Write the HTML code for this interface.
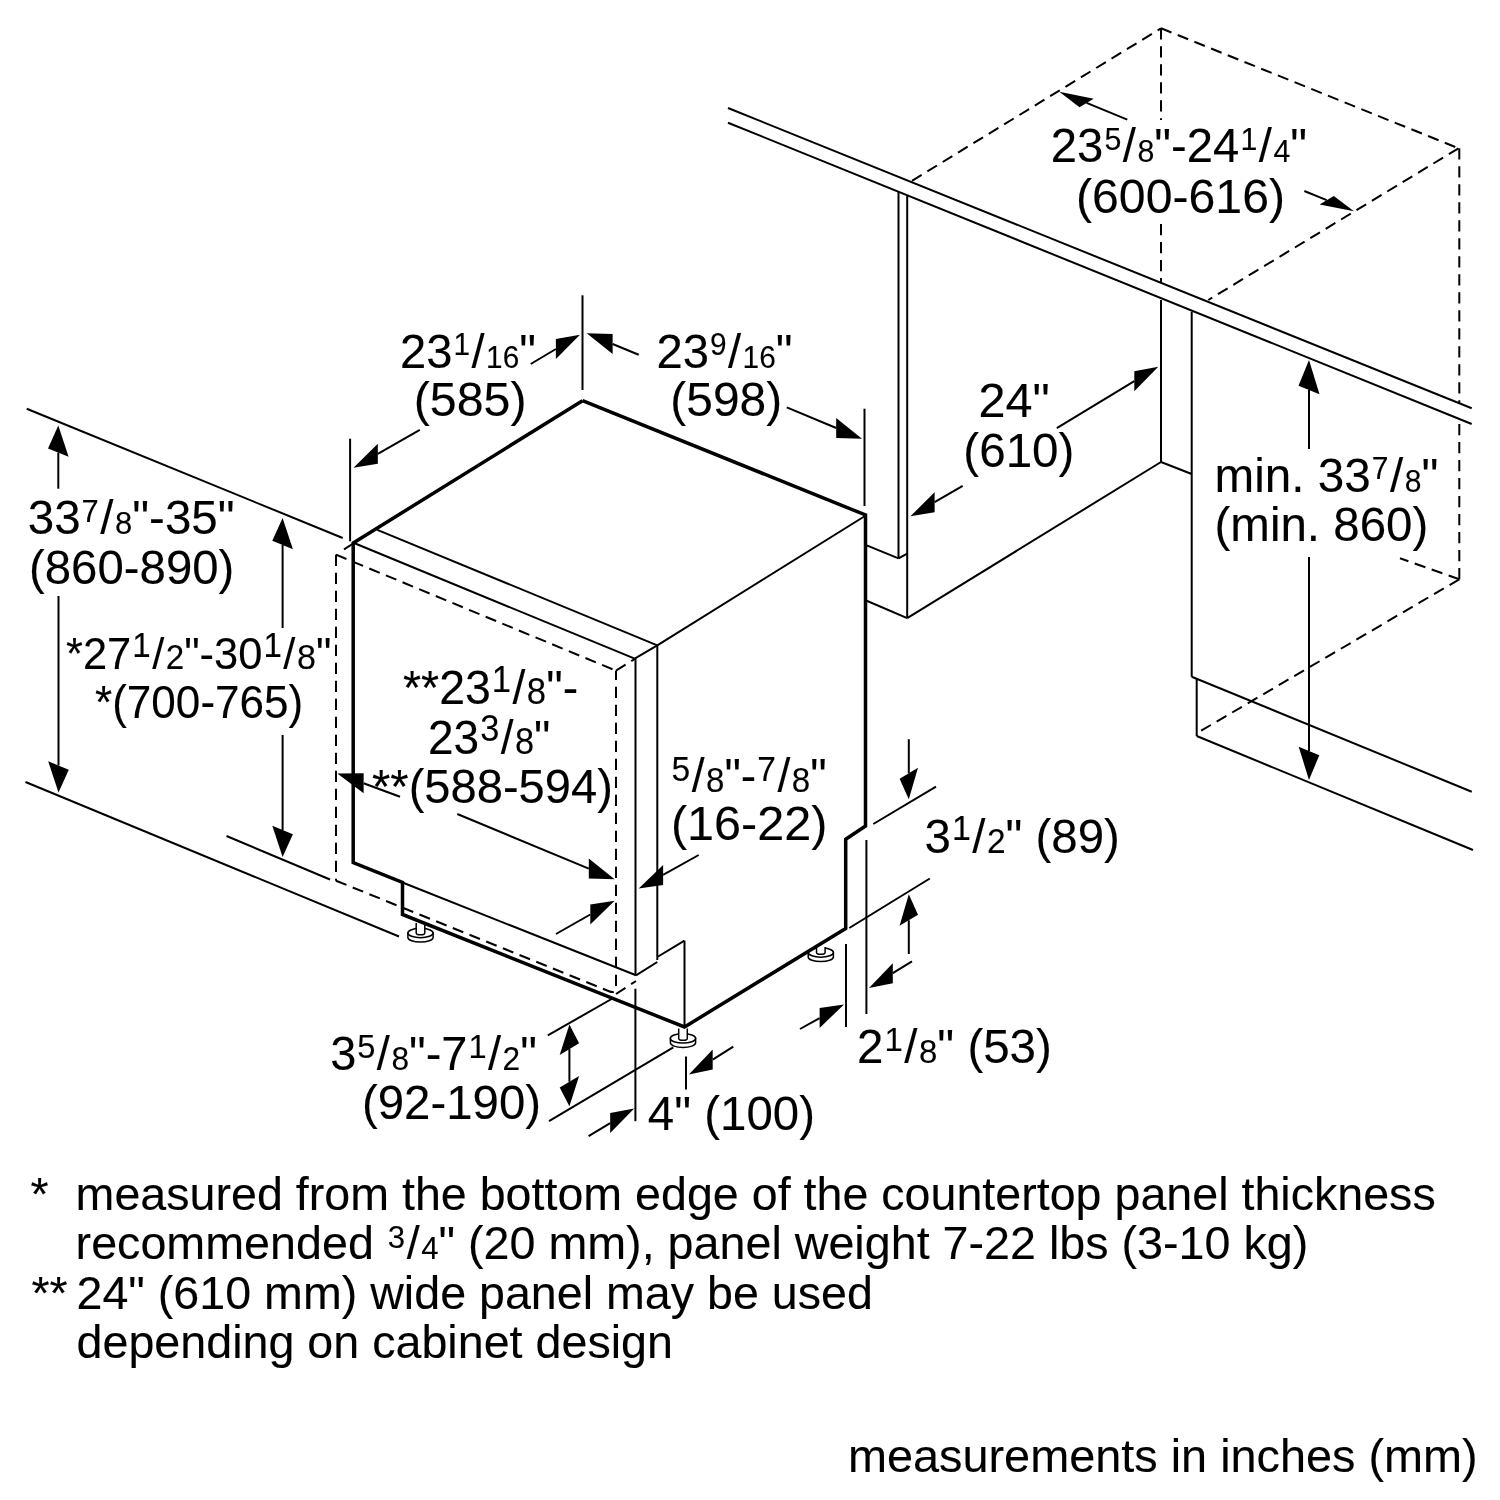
<!DOCTYPE html>
<html><head><meta charset="utf-8"><title>Dishwasher installation dimensions</title>
<style>
html,body{margin:0;padding:0;background:#fff;}
body{width:1500px;height:1500px;overflow:hidden;}
svg{display:block;}
svg line,svg polyline{stroke:#000;fill:none;stroke-linecap:butt;}
svg text{font-family:"Liberation Sans",Arial,Helvetica,sans-serif;fill:#000;stroke:#000;stroke-width:0.1px;}
svg{will-change:transform;}
</style></head><body>
<svg width="1500" height="1500" viewBox="0 0 1500 1500">
<rect x="0" y="0" width="1500" height="1500" fill="#fff"/>
<line x1="728" y1="108" x2="1471.7" y2="408.3" stroke-width="2.0" />
<line x1="728" y1="122.7" x2="1471.7" y2="424" stroke-width="2.0" />
<line x1="912" y1="180.8" x2="1161" y2="28.3" stroke-width="2.0" stroke-dasharray="11.3 6.7"/>
<line x1="1161" y1="28.3" x2="1458.5" y2="148.3" stroke-width="2.0" stroke-dasharray="11.3 6.7"/>
<line x1="1161" y1="28.3" x2="1161" y2="120" stroke-width="2.0" stroke-dasharray="11.3 6.7"/>
<line x1="1161" y1="224" x2="1161" y2="283" stroke-width="2.0" stroke-dasharray="11.3 6.7"/>
<line x1="1459.3" y1="148.3" x2="1459.3" y2="403" stroke-width="2.0" stroke-dasharray="11.3 6.7"/>
<line x1="1459.3" y1="424" x2="1459.3" y2="579.3" stroke-width="2.0" stroke-dasharray="11.3 6.7"/>
<line x1="1458.5" y1="148.3" x2="1208.3" y2="300" stroke-width="2.0" stroke-dasharray="11.3 6.7"/>
<line x1="1459.3" y1="579.3" x2="1196.7" y2="733.3" stroke-width="2.0" stroke-dasharray="11.3 6.7"/>
<line x1="1459.3" y1="579.3" x2="1400" y2="558.3" stroke-width="2.0" stroke-dasharray="11.3 6.7"/>
<line x1="898.5" y1="192" x2="898.5" y2="558.4" stroke-width="2.0" />
<line x1="907.2" y1="196" x2="907.2" y2="618.1" stroke-width="2.0" />
<line x1="866.1" y1="545.1" x2="898.5" y2="558.4" stroke-width="2.0" />
<line x1="898.5" y1="558.4" x2="907.2" y2="553.6" stroke-width="2.0" />
<line x1="866.1" y1="600.5" x2="907.2" y2="618.1" stroke-width="2.0" />
<line x1="907.2" y1="618.1" x2="1161" y2="462" stroke-width="2.0" />
<line x1="1161" y1="300" x2="1161" y2="462" stroke-width="2.0" />
<line x1="1191.7" y1="311.7" x2="1191.7" y2="676.7" stroke-width="2.0" />
<line x1="1161" y1="462" x2="1191.7" y2="474" stroke-width="2.0" />
<line x1="1191.7" y1="676.7" x2="1471.7" y2="791.7" stroke-width="2.0" />
<line x1="1196.7" y1="678.5" x2="1196.7" y2="736" stroke-width="2.0" />
<line x1="1196.7" y1="736" x2="1473" y2="850" stroke-width="2.0" />
<g stroke="#000" stroke-width="1.5" fill="#fff"><path d="M407.9,933 v4.4 a12.6,4.7 0 0 0 25.2,0 v-4.4 z"/><ellipse cx="420.5" cy="933" rx="12.6" ry="4.7"/><path d="M416.2,923 V933 a4.3,1.8 0 0 0 8.6,0 V923"/></g>
<g stroke="#000" stroke-width="1.5" fill="#fff"><path d="M670.4,1038.4 v4.4 a12.6,4.7 0 0 0 25.2,0 v-4.4 z"/><ellipse cx="683" cy="1038.4" rx="12.6" ry="4.7"/><path d="M678.7,1028.4 V1038.4 a4.3,1.8 0 0 0 8.6,0 V1028.4"/></g>
<g stroke="#000" stroke-width="1.5" fill="#fff"><path d="M808.1999999999999,952.5 v4.4 a12.6,4.7 0 0 0 25.2,0 v-4.4 z"/><ellipse cx="820.8" cy="952.5" rx="12.6" ry="4.7"/><path d="M816.5,947.0 V952.5 a4.3,1.8 0 0 0 8.6,0 V947.0"/></g>
<polyline points="582.5,400.7 865.5,515 865.5,826 845.7,839.3 845.7,928.5 684.5,1027 402.5,914.5 402.5,882.5 353.2,862.5 353.2,543 582.5,400.7" stroke-width="3.5" stroke-linejoin="miter"/>
<line x1="402.5" y1="882.5" x2="636" y2="975.3" stroke-width="2.0" />
<line x1="344" y1="549.3" x2="354" y2="543" stroke-width="2.0" />
<line x1="377.3" y1="529.9" x2="657.3" y2="645.3" stroke-width="2.0" />
<line x1="354" y1="543" x2="634.7" y2="658.7" stroke-width="2.0" />
<line x1="634.7" y1="658.7" x2="657.3" y2="645.3" stroke-width="2.0" />
<line x1="657.3" y1="645.3" x2="865" y2="516" stroke-width="2.0" />
<line x1="635.5" y1="658.7" x2="635.5" y2="975.3" stroke-width="2.0" />
<line x1="657.3" y1="645.3" x2="657.3" y2="960" stroke-width="2.0" />
<line x1="636" y1="975.3" x2="657.3" y2="962" stroke-width="2.0" />
<line x1="657.3" y1="957" x2="684.5" y2="940.7" stroke-width="2.0" />
<line x1="684.5" y1="940.7" x2="684.5" y2="1027" stroke-width="2.0" />
<line x1="336" y1="554.7" x2="616" y2="670.7" stroke-width="2.0" stroke-dasharray="11.3 6.7"/>
<line x1="336" y1="554.7" x2="336" y2="880.7" stroke-width="2.0" stroke-dasharray="11.3 6.7"/>
<path d="M336,880.7 L609,991.2 Q616,994 616,987 L616,670.7" stroke="#000" fill="none" stroke-width="2.0" stroke-dasharray="11.3 6.7"/>
<line x1="616" y1="670.7" x2="634.7" y2="659" stroke-width="2.0" stroke-dasharray="11.3 6.7"/>
<line x1="616" y1="994" x2="636" y2="981" stroke-width="2.0" stroke-dasharray="11.3 6.7"/>
<line x1="582.5" y1="295.3" x2="582.5" y2="390" stroke-width="2.0" />
<line x1="350.1" y1="438.7" x2="350.1" y2="541.3" stroke-width="2.0" />
<line x1="864.5" y1="408.7" x2="864.5" y2="506" stroke-width="2.0" />
<line x1="26.7" y1="408.7" x2="342.7" y2="538" stroke-width="2.0" />
<line x1="25.5" y1="782" x2="399" y2="936.5" stroke-width="2.0" />
<line x1="226.5" y1="836" x2="330" y2="879.5" stroke-width="2.0" />
<line x1="58.3" y1="488.7" x2="58.3" y2="452.6" stroke-width="2.0" />
<polygon points="58.3,425.6 68.6,456.8 48.0,448.4" fill="#000" stroke="none"/>
<line x1="58.5" y1="596" x2="58.5" y2="765.5" stroke-width="2.0" />
<polygon points="58.5,792.5 68.8,769.7 48.2,761.3" fill="#000" stroke="none"/>
<line x1="282.6" y1="628" x2="282.6" y2="545.0" stroke-width="2.0" />
<polygon points="282.6,518.0 292.9,549.2 272.3,540.8" fill="#000" stroke="none"/>
<line x1="282.6" y1="735" x2="282.6" y2="830.0" stroke-width="2.0" />
<polygon points="282.6,857.0 292.9,834.2 272.3,825.8" fill="#000" stroke="none"/>
<line x1="530.7" y1="364" x2="555.9" y2="349.0" stroke-width="2.0" />
<polygon points="580.0,334.7 555.9,359.0 555.9,339.0" fill="#000" stroke="none"/>
<line x1="638.7" y1="354.7" x2="612.6" y2="344.0" stroke-width="2.0" />
<polygon points="586.7,333.3 612.6,354.0 612.6,334.0" fill="#000" stroke="none"/>
<line x1="419.8" y1="429.9" x2="377.8" y2="453.8" stroke-width="2.0" />
<polygon points="353.5,467.7 377.8,463.8 377.8,443.8" fill="#000" stroke="none"/>
<line x1="786.8" y1="407.3" x2="836.2" y2="428.0" stroke-width="2.0" />
<polygon points="862.0,438.8 836.2,438.0 836.2,418.0" fill="#000" stroke="none"/>
<line x1="1056.8" y1="428.1" x2="1134.3" y2="381.2" stroke-width="2.0" />
<polygon points="1158.3,366.7 1134.3,391.2 1134.3,371.2" fill="#000" stroke="none"/>
<line x1="962.7" y1="485.9" x2="934.6" y2="502.2" stroke-width="2.0" />
<polygon points="910.4,516.3 934.6,512.2 934.6,492.2" fill="#000" stroke="none"/>
<line x1="1127.3" y1="119.7" x2="1086.6" y2="102.9" stroke-width="2.0" />
<polygon points="1059.3,91.7 1093.7,98.7 1079.5,107.2" fill="#000" stroke="none"/>
<line x1="1304.3" y1="191" x2="1326.7" y2="200.1" stroke-width="2.0" />
<polygon points="1354.0,211.3 1333.8,195.9 1319.6,204.4" fill="#000" stroke="none"/>
<line x1="1309" y1="449" x2="1309.0" y2="390.0" stroke-width="2.0" />
<polygon points="1309.0,360.0 1319.5,394.3 1298.5,385.7" fill="#000" stroke="none"/>
<line x1="1309" y1="557" x2="1309.0" y2="751.0" stroke-width="2.0" />
<polygon points="1309.0,780.0 1319.3,755.2 1298.7,746.8" fill="#000" stroke="none"/>
<line x1="400" y1="796.7" x2="363.6" y2="783.2" stroke-width="2.0" />
<polygon points="337.3,773.5 363.6,793.2 363.6,773.2" fill="#000" stroke="none"/>
<line x1="457.3" y1="814" x2="588.8" y2="868.6" stroke-width="2.0" />
<polygon points="614.7,879.3 588.8,878.6 588.8,858.6" fill="#000" stroke="none"/>
<line x1="556" y1="934" x2="590.3" y2="914.5" stroke-width="2.0" />
<polygon points="614.7,900.7 590.3,924.5 590.3,904.5" fill="#000" stroke="none"/>
<line x1="698.7" y1="855" x2="663.1" y2="874.9" stroke-width="2.0" />
<polygon points="638.7,888.5 663.1,884.9 663.1,864.9" fill="#000" stroke="none"/>
<line x1="908.8" y1="739.2" x2="908.8" y2="773.3" stroke-width="2.0" />
<polygon points="908.8,799.3 918.0,767.8 899.6,778.8" fill="#000" stroke="none"/>
<line x1="908.8" y1="954" x2="908.8" y2="920.3" stroke-width="2.0" />
<polygon points="908.8,894.3 918.0,914.8 899.6,925.8" fill="#000" stroke="none"/>
<line x1="873.3" y1="824" x2="936" y2="786.7" stroke-width="2.0" />
<line x1="849.3" y1="928" x2="929.8" y2="878.5" stroke-width="2.0" />
<line x1="846" y1="944" x2="846" y2="1027" stroke-width="2.0" />
<line x1="866.4" y1="840" x2="866.4" y2="1014" stroke-width="2.0" />
<line x1="912" y1="961.3" x2="892.8" y2="973.2" stroke-width="2.0" />
<polygon points="869.0,988.0 892.8,983.2 892.8,963.2" fill="#000" stroke="none"/>
<line x1="800" y1="1029" x2="819.6" y2="1018.1" stroke-width="2.0" />
<polygon points="844.0,1004.4 819.6,1028.1 819.6,1008.1" fill="#000" stroke="none"/>
<line x1="569.4" y1="1066" x2="569.4" y2="1049.1" stroke-width="2.0" />
<polygon points="569.4,1024.6 579.1,1043.3 559.7,1054.9" fill="#000" stroke="none"/>
<line x1="569.4" y1="1066" x2="569.4" y2="1081.7" stroke-width="2.0" />
<polygon points="569.4,1106.2 579.1,1075.9 559.7,1087.5" fill="#000" stroke="none"/>
<line x1="547.8" y1="1035.4" x2="613.3" y2="998" stroke-width="2.0" />
<line x1="549" y1="1121.2" x2="673.3" y2="1047.3" stroke-width="2.0" />
<line x1="635.4" y1="988.7" x2="635.4" y2="1121.2" stroke-width="2.0" />
<line x1="588.6" y1="1136.2" x2="610.2" y2="1123.1" stroke-width="2.0" />
<polygon points="634.2,1108.6 610.2,1133.1 610.2,1113.1" fill="#000" stroke="none"/>
<line x1="686" y1="1056.4" x2="686" y2="1089.4" stroke-width="2.0" />
<line x1="733.3" y1="1046.7" x2="712.7" y2="1059.6" stroke-width="2.0" />
<polygon points="688.9,1074.4 712.7,1069.6 712.7,1049.6" fill="#000" stroke="none"/>
<text id="a1" transform="translate(1050.83,162.4) scale(0.9953,1.02)" font-size="47.5">23<tspan font-size="30.5" dy="-12" dx="1">5</tspan><tspan dy="12" dx="1.5">/</tspan><tspan font-size="30.5" dx="1.5">8</tspan>"-24<tspan font-size="30.5" dy="-12" dx="1">1</tspan><tspan dy="12" dx="1.5">/</tspan><tspan font-size="30.5" dx="1.5">4</tspan>"</text>
<text id="a2" transform="translate(1075.96,212.5) scale(1.0150,1.02)" font-size="47.5">(600-616)</text>
<text id="b1" transform="translate(400.02,367.5) scale(0.9925,1.02)" font-size="47.5">23<tspan font-size="30" dy="-12" dx="1">1</tspan><tspan dy="12" dx="1.5">/</tspan><tspan font-size="30" dx="1.5">16</tspan>"</text>
<text id="b2" transform="translate(413.73,416) scale(1.0173,1.02)" font-size="47.5">(585)</text>
<text id="c1" transform="translate(656.43,367.5) scale(0.9940,1.02)" font-size="47.5">23<tspan font-size="30" dy="-12" dx="1">9</tspan><tspan dy="12" dx="1.5">/</tspan><tspan font-size="30" dx="1.5">16</tspan>"</text>
<text id="c2" transform="translate(670.37,416) scale(1.0076,1.02)" font-size="47.5">(598)</text>
<text id="d1" transform="translate(978.42,416.9) scale(1.0217,1.02)" font-size="47.5">24"</text>
<text id="d2" transform="translate(963.32,466.5) scale(1.0023,1.02)" font-size="47.5">(610)</text>
<text id="e1" transform="translate(1214.52,491.7) scale(1.0030,1.02)" font-size="47.5">min. 33<tspan font-size="30" dy="-12.5" dx="1">7</tspan><tspan dy="12.5" dx="1.5">/</tspan><tspan font-size="30" dx="1.5">8</tspan>"</text>
<text id="e2" transform="translate(1214.50,540.8) scale(1.0000,1.02)" font-size="47.5">(min. 860)</text>
<text id="f1" transform="translate(27.82,534.4) scale(0.9994,1.02)" font-size="47.5">33<tspan font-size="31" dy="-12" dx="1">7</tspan><tspan dy="12" dx="1.5">/</tspan><tspan font-size="31" dx="1.5">8</tspan>"-35"</text>
<text id="f2" transform="translate(29.03,584.4) scale(0.9970,1.02)" font-size="47.5">(860-890)</text>
<text id="g1" transform="translate(66.00,669) scale(0.9886,1.02)" font-size="44">*27<tspan font-size="33.5" dy="-11.5" dx="1">1</tspan><tspan dy="11.5" dx="1.5">/</tspan><tspan font-size="33.5" dx="1.5">2</tspan>"-30<tspan font-size="33.5" dy="-11.5" dx="1">1</tspan><tspan dy="11.5" dx="1.5">/</tspan><tspan font-size="34.5" dx="1.5">8</tspan>"</text>
<text id="g2" transform="translate(95.01,718.3) scale(0.9906,1.02)" font-size="44.5">*(700-765)</text>
<text id="h1" transform="translate(403.02,704.4) scale(0.9773,1.02)" font-size="47.5">**23<tspan font-size="35.5" dy="-12.3" dx="1">1</tspan><tspan dy="12.3" dx="1.5">/</tspan><tspan font-size="35.5" dx="1.5">8</tspan>"-</text>
<text id="h2" transform="translate(428.07,754) scale(0.9674,1.02)" font-size="47.5">23<tspan font-size="35.5" dy="-12.3" dx="1">3</tspan><tspan dy="12.3" dx="1.5">/</tspan><tspan font-size="35.5" dx="1.5">8</tspan>"</text>
<text id="h3" transform="translate(372.01,803) scale(0.9916,1.02)" font-size="47.5">**(588-594)</text>
<text id="i1" transform="translate(670.54,792.4) scale(0.9745,1.02)" font-size="47.5"><tspan font-size="34.5" dy="-11" dx="1">5</tspan><tspan dy="11" dx="1.5">/</tspan><tspan font-size="34" dx="1.5">8</tspan>"-<tspan font-size="34.5" dy="-11" dx="1">7</tspan><tspan dy="11" dx="1.5">/</tspan><tspan font-size="34" dx="1.5">8</tspan>"</text>
<text id="i2" transform="translate(670.96,840.3) scale(1.0220,1.02)" font-size="47.5">(16-22)</text>
<text id="j1" transform="translate(924.62,852.6) scale(0.9979,1.02)" font-size="47.5">3<tspan font-size="34" dy="-12.5" dx="1">1</tspan><tspan dy="12.5" dx="1.5">/</tspan><tspan font-size="33.5" dx="1.5">2</tspan>" (89)</text>
<text id="k1" transform="translate(857.00,1063) scale(1.0000,1.02)" font-size="47.5">2<tspan font-size="33" dy="-12" dx="1">1</tspan><tspan dy="12" dx="1.5">/</tspan><tspan font-size="33" dx="1.5">8</tspan>" (53)</text>
<text id="l1" transform="translate(330.14,1070) scale(0.9886,1.02)" font-size="47.5">3<tspan font-size="33" dy="-12" dx="1">5</tspan><tspan dy="12" dx="1.5">/</tspan><tspan font-size="32" dx="1.5">8</tspan>"-7<tspan font-size="33" dy="-12" dx="1">1</tspan><tspan dy="12" dx="1.5">/</tspan><tspan font-size="32" dx="1.5">2</tspan>"</text>
<text id="l2" transform="translate(361.96,1119.3) scale(0.9976,1.02)" font-size="47.5">(92-190)</text>
<text id="m1" transform="translate(647.87,1130) scale(0.9988,1.02)" font-size="47.5">4" (100)</text>
<text id="n0" transform="translate(30.50,1210.4) scale(1.0000,1)" font-size="46.5">*</text>
<text id="n1" transform="translate(75.59,1210.4) scale(1.0025,1)" font-size="46.5">measured from the bottom edge of the countertop panel thickness</text>
<text id="n2" transform="translate(75.59,1259.4) scale(1.0036,1)" font-size="46.5">recommended <tspan font-size="31" dy="-11.7" dx="1">3</tspan><tspan dy="11.7" dx="1.5">/</tspan><tspan font-size="31" dx="1.5">4</tspan>" (20 mm), panel weight 7-22 lbs (3-10 kg)</text>
<text id="n3" transform="translate(31.50,1309) scale(1.0000,1)" font-size="46.5">**</text>
<text id="n4" transform="translate(76.49,1309) scale(1.0028,1)" font-size="46.5">24" (610 mm) wide panel may be used</text>
<text id="n5" transform="translate(76.50,1358) scale(1.0033,1)" font-size="46.5">depending on cabinet design</text>
<text id="n6" transform="translate(847.98,1471.6) scale(1.0073,1)" font-size="46.5">measurements in inches (mm)</text>
</svg>
</body></html>
